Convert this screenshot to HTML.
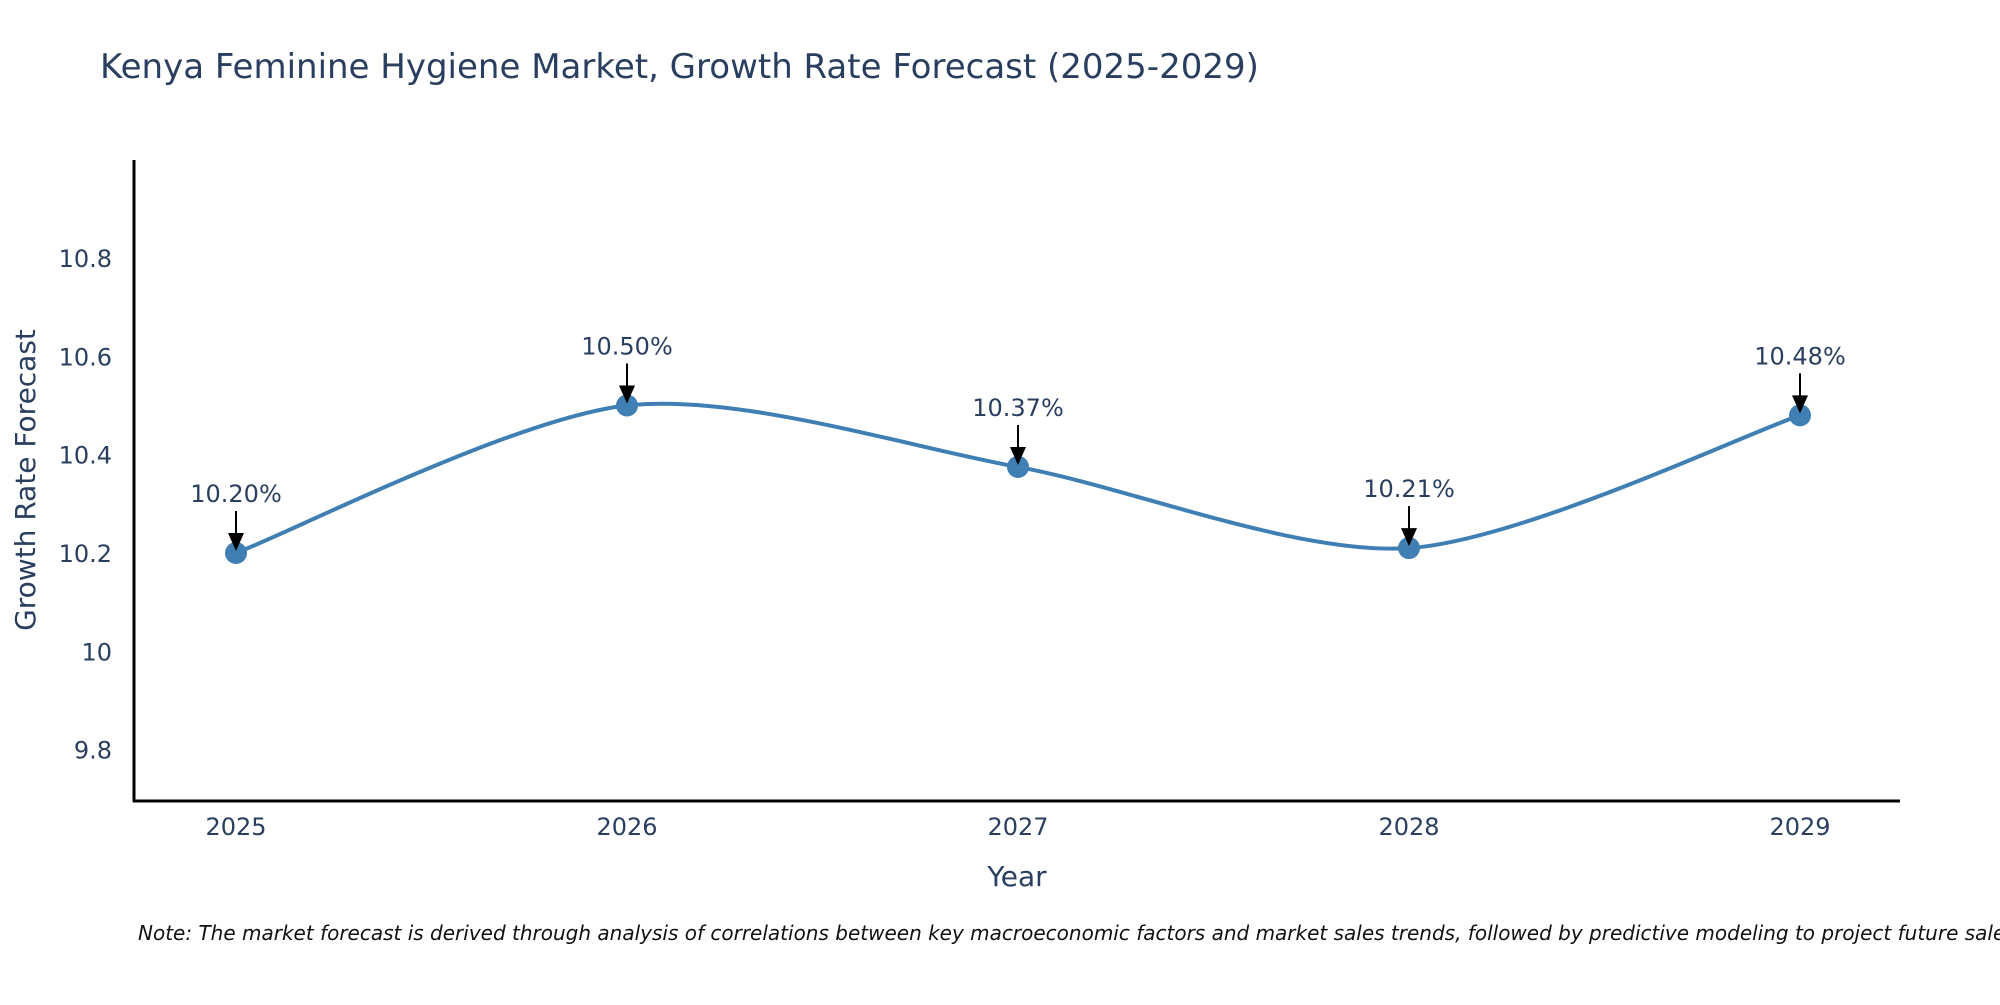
<!DOCTYPE html>
<html><head><meta charset="utf-8"><style>
body{margin:0;background:#fff;}
svg text{font-family:"DejaVu Sans","Liberation Sans",sans-serif;fill:#2a3f5f;}
</style></head><body>
<svg id="chart" width="2000" height="1000" viewBox="0 0 2000 1000">
<text x="100" y="78" font-size="34">Kenya Feminine Hygiene Market, Growth Rate Forecast (2025-2029)</text>
<g id="yticks"></g><g id="xticks"></g>
<g id="plot"></g>
<line x1="134" y1="160" x2="134" y2="802" stroke="#000" stroke-width="3"/>
<line x1="133" y1="801" x2="1900" y2="801" stroke="#000" stroke-width="3"/>
<text transform="translate(35,480) rotate(-90)" text-anchor="middle" font-size="28">Growth Rate Forecast</text>
<text x="1017" y="886" text-anchor="middle" font-size="28">Year</text>
<text x="138" y="940" font-size="20" font-style="italic" style="fill:#111">Note: The market forecast is derived through analysis of correlations between key macroeconomic factors and market sales trends, followed by predictive modeling to project future sales.</text>
</svg>
<script>
const years = [2025, 2026, 2027, 2028, 2029];
const rates = [10.20, 10.50, 10.375, 10.21, 10.48];
const labels = ["10.20%", "10.50%", "10.37%", "10.21%", "10.48%"];
const yTicks = [9.8, 10, 10.2, 10.4, 10.6, 10.8];
const yTickLabels = ["9.8", "10", "10.2", "10.4", "10.6", "10.8"];

const NS = "http://www.w3.org/2000/svg";
function xS(v){ return 236 + (v - 2025) * 391; }
function yS(v){ return 553 - (v - 10.2) * 491.7; }
function mk(tag, attrs, parent){ const e = document.createElementNS(NS, tag); for (const k in attrs) e.setAttribute(k, attrs[k]); parent.appendChild(e); return e; }

const yt = document.getElementById('yticks');
yTicks.forEach((t, i) => {
  const el = mk('text', {x: 112, y: yS(t) + 9, 'text-anchor': 'end', 'font-size': 24}, yt);
  el.textContent = yTickLabels[i];
  
  
});
const xt = document.getElementById('xticks');
years.forEach(y => {
  const el = mk('text', {x: xS(y), y: 835, 'text-anchor': 'middle', 'font-size': 24}, xt);
  el.textContent = String(y);
  
  
});

const plot = document.getElementById('plot');
const pts = years.map((y, i) => [xS(y), yS(rates[i])]);
let d = 'M' + pts[0][0] + ',' + pts[0][1];
for (let i = 0; i < pts.length - 1; i++) {
  const p0 = pts[Math.max(0, i - 1)], p1 = pts[i], p2 = pts[i + 1], p3 = pts[Math.min(pts.length - 1, i + 2)];
  const c1 = [p1[0] + (p2[0] - p0[0]) / 7, p1[1] + (p2[1] - p0[1]) / 7];
  const c2 = [p2[0] - (p3[0] - p1[0]) / 7, p2[1] - (p3[1] - p1[1]) / 7];
  d += ' C' + c1.join(',') + ' ' + c2.join(',') + ' ' + p2.join(',');
}
const line = mk('path', {d: d, fill: 'none', stroke: '#3f7fb3', 'stroke-width': 4}, plot);



pts.forEach((p, i) => {
  const c = mk('circle', {cx: p[0], cy: p[1], r: 11, fill: '#3f7fb3'}, plot);
  
  
  const a = mk('line', {x1: p[0], y1: p[1] - 42, x2: p[0], y2: p[1] - 16, stroke: '#000', 'stroke-width': 2}, plot);
  
  
  const h = mk('polygon', {points: (p[0]-8)+','+(p[1]-20)+' '+(p[0]+8)+','+(p[1]-20)+' '+p[0]+','+(p[1]-2), fill: '#000'}, plot);
  
  
  const t = mk('text', {x: p[0], y: p[1] - 51, 'text-anchor': 'middle', 'font-size': 24}, plot);
  t.textContent = labels[i];
  
  
});
</script>
</body></html>
